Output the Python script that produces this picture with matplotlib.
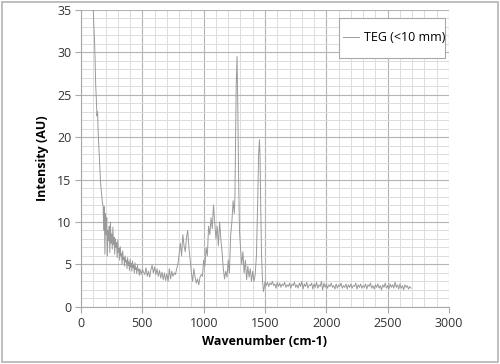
import matplotlib
matplotlib.use("Agg")
import matplotlib.pyplot as plt
from matplotlib.patches import Rectangle
from matplotlib.ticker import MultipleLocator

# ---------------------------------------------------------------------------
# Data
# ---------------------------------------------------------------------------

series_label = "TEG (<10 mm)"

# steep background at the start
wn_start = [100, 105, 110, 115, 120, 125, 130, 135, 140, 145, 150, 155, 160, 165,
            170, 175]
int_start = [35.0, 33.0, 31.5, 29.0, 26.0, 24.5, 22.5, 23.0, 20.5, 19.0, 17.5,
             16.0, 14.5, 13.8, 13.0, 12.2]

# noisy decay 180 - 500
wn_decay = list(range(180, 485, 5)) + [490, 500]
int_decay = [12.0, 9.0, 11.8, 6.2, 11.0, 8.5, 10.5, 6.0, 9.0, 7.8, 9.5, 6.4, 10.0,
             7.5, 8.6, 6.8, 9.4, 7.3, 8.2, 6.2, 8.0, 7.0, 7.6, 5.8, 7.9, 6.4, 6.9,
             5.5, 7.1, 6.0, 6.3, 5.0, 6.6, 5.6, 5.8, 4.8, 6.0, 5.3, 5.5, 4.5, 5.8,
             4.9, 5.3, 4.3, 5.6, 4.7, 5.1, 4.2, 5.4, 4.6, 4.9, 4.0, 5.2, 4.4, 4.6,
             3.9, 4.9, 4.3, 4.4, 3.7, 4.5, 3.8, 4.4]

# band region 510 - 1495
wn_bands = [510, 520, 530, 540, 550, 560, 570, 580, 590, 600, 610, 620, 630, 640,
            650, 660, 670, 680, 690, 700, 710, 720, 730, 740, 750, 760, 770, 780,
            790, 800, 810, 820, 830, 840, 850, 860, 870, 880, 890, 900, 910, 920,
            930, 940, 950, 960, 970, 980, 990, 1000, 1010, 1020, 1030, 1040, 1050,
            1060, 1070, 1080, 1090, 1100, 1110, 1120, 1130, 1140, 1150, 1160, 1170,
            1180, 1190, 1200, 1210, 1220, 1230, 1240, 1250, 1255, 1260, 1265, 1272,
            1278, 1285, 1292, 1300, 1310, 1320, 1330, 1340, 1350, 1360, 1370, 1380,
            1390, 1400, 1410, 1420, 1430, 1440, 1448, 1455, 1460, 1465, 1472, 1480,
            1488, 1495]
int_bands = [4.1, 3.8, 4.6, 3.6, 4.2, 3.5, 4.4, 4.9, 4.0, 4.7, 3.8, 4.5, 3.6, 4.3,
             3.4, 4.1, 3.2, 4.0, 3.1, 3.9, 3.0, 4.5, 3.3, 4.2, 3.6, 4.0, 3.8, 4.5,
             5.0, 6.2, 7.5, 6.0, 8.5, 7.2, 6.5, 8.2, 9.0, 7.0, 5.5, 4.0, 3.0, 4.5,
             3.5, 2.8, 3.3, 2.6, 3.5, 3.8, 3.6, 5.5, 4.8, 7.0, 6.0, 9.5, 8.5, 10.5,
             9.2, 12.0, 10.0, 8.0, 9.5, 7.2, 10.0, 8.0, 6.5, 4.5, 3.3, 4.2, 3.5, 5.5,
             4.0, 8.5, 10.0, 12.5, 11.0, 13.0, 20.0, 26.0, 29.5, 24.0, 15.0, 9.0,
             7.0, 5.0, 6.5, 4.0, 5.5, 3.2, 4.8, 3.5, 4.5, 3.0, 4.2, 3.0, 3.8, 6.0,
             12.0, 18.0, 19.7, 17.5, 12.0, 6.0, 3.0, 1.8, 2.4]

# flat high wavenumber tail
wn_tail = list(range(1500, 2700, 10))
int_tail = [3.0, 2.5, 2.9, 2.4, 2.8, 2.6, 3.0, 2.5, 2.7, 2.2, 2.9, 2.4, 2.8, 2.3,
            2.7, 2.5, 2.9, 2.3, 2.6, 2.4, 2.8, 2.2, 2.7, 2.5, 2.9, 2.3, 2.6, 2.2,
            2.8, 2.4, 3.0, 2.1, 2.7, 2.4, 2.9, 2.2, 2.6, 2.5, 2.8, 2.1, 2.7, 2.3,
            2.9, 2.2, 2.6, 2.4, 3.0, 2.0, 2.8, 2.3, 2.7, 2.2, 2.6, 2.4, 2.8, 2.3,
            2.5, 2.1, 2.7, 2.2, 2.6, 2.4, 2.8, 2.2, 2.5, 2.3, 2.7, 2.1, 2.6, 2.3,
            2.7, 2.2, 2.5, 2.4, 2.8, 2.1, 2.6, 2.3, 2.7, 2.2, 2.5, 2.3, 2.7, 2.1,
            2.6, 2.4, 2.8, 2.2, 2.5, 2.1, 2.6, 2.3, 2.7, 2.2, 2.5, 2.0, 2.6, 2.3,
            2.8, 2.2, 2.5, 2.1, 2.7, 2.3, 2.6, 2.2, 2.9, 2.3, 2.6, 2.1, 2.7, 2.2,
            2.5, 2.0, 2.6, 2.3, 2.5, 2.1, 2.4, 2.2]

wavenumber = wn_start + wn_decay + wn_bands + wn_tail
intensity = int_start + int_decay + int_bands + int_tail
assert len(wavenumber) == len(intensity)

x_ticks = [0, 500, 1000, 1500, 2000, 2500, 3000]
y_ticks = [0, 5, 10, 15, 20, 25, 30, 35]

# ---------------------------------------------------------------------------
# Plot
# ---------------------------------------------------------------------------

plt.rcParams["font.family"] = ["Open Sans", "DejaVu Sans"]

fig = plt.figure(figsize=(5.0, 3.64), dpi=100)
ax = fig.add_axes([0.162, 0.157, 0.736, 0.816])

# outer frame round the whole picture
fig.patches.append(Rectangle((0.004, 0.006), 0.992, 0.988, transform=fig.transFigure,
                             fill=False, edgecolor="#b4b4b4", linewidth=1.2))

ax.plot(wavenumber, intensity, color="#9a9a9a", linewidth=0.7, label=series_label)

ax.set_xlim(0, 3000)
ax.set_ylim(0, 35)
ax.set_xticks(x_ticks)
ax.set_yticks(y_ticks)
ax.xaxis.set_minor_locator(MultipleLocator(100))
ax.yaxis.set_minor_locator(MultipleLocator(1))

ax.grid(which="major", color="#b4b4b4", linewidth=0.8)
ax.grid(which="minor", color="#dcdcdc", linewidth=0.7)
ax.set_axisbelow(True)

for side in ("top", "right"):
    ax.spines[side].set_visible(False)
for side in ("left", "bottom"):
    ax.spines[side].set_color("#a8a8a8")
    ax.spines[side].set_linewidth(0.8)

ax.tick_params(which="major", length=4, color="#a8a8a8", labelsize=9,
               labelcolor="#333333", pad=3)
ax.tick_params(which="minor", length=0)

ax.set_xlabel("Wavenumber (cm-1)", fontsize=9, fontweight="bold", labelpad=4)
ax.set_ylabel("Intensity (AU)", fontsize=9, fontweight="bold", labelpad=6)

# legend: text runs right up to the box edge, so the box is drawn separately
box = Rectangle((339 / 500, 1 - 58 / 364), 106 / 500, 40 / 364,
                transform=fig.transFigure, facecolor="white",
                edgecolor="#a8a8a8", linewidth=0.8, zorder=4, clip_on=False)
ax.add_patch(box)
leg = ax.legend(loc="upper right", bbox_to_anchor=(0.89, 0.915),
                bbox_transform=fig.transFigure, fontsize=9, frameon=False,
                borderpad=0, handlelength=1.3, handletextpad=0.35,
                borderaxespad=0)
leg.set_zorder(5)

fig.savefig("out.png", dpi=100)
